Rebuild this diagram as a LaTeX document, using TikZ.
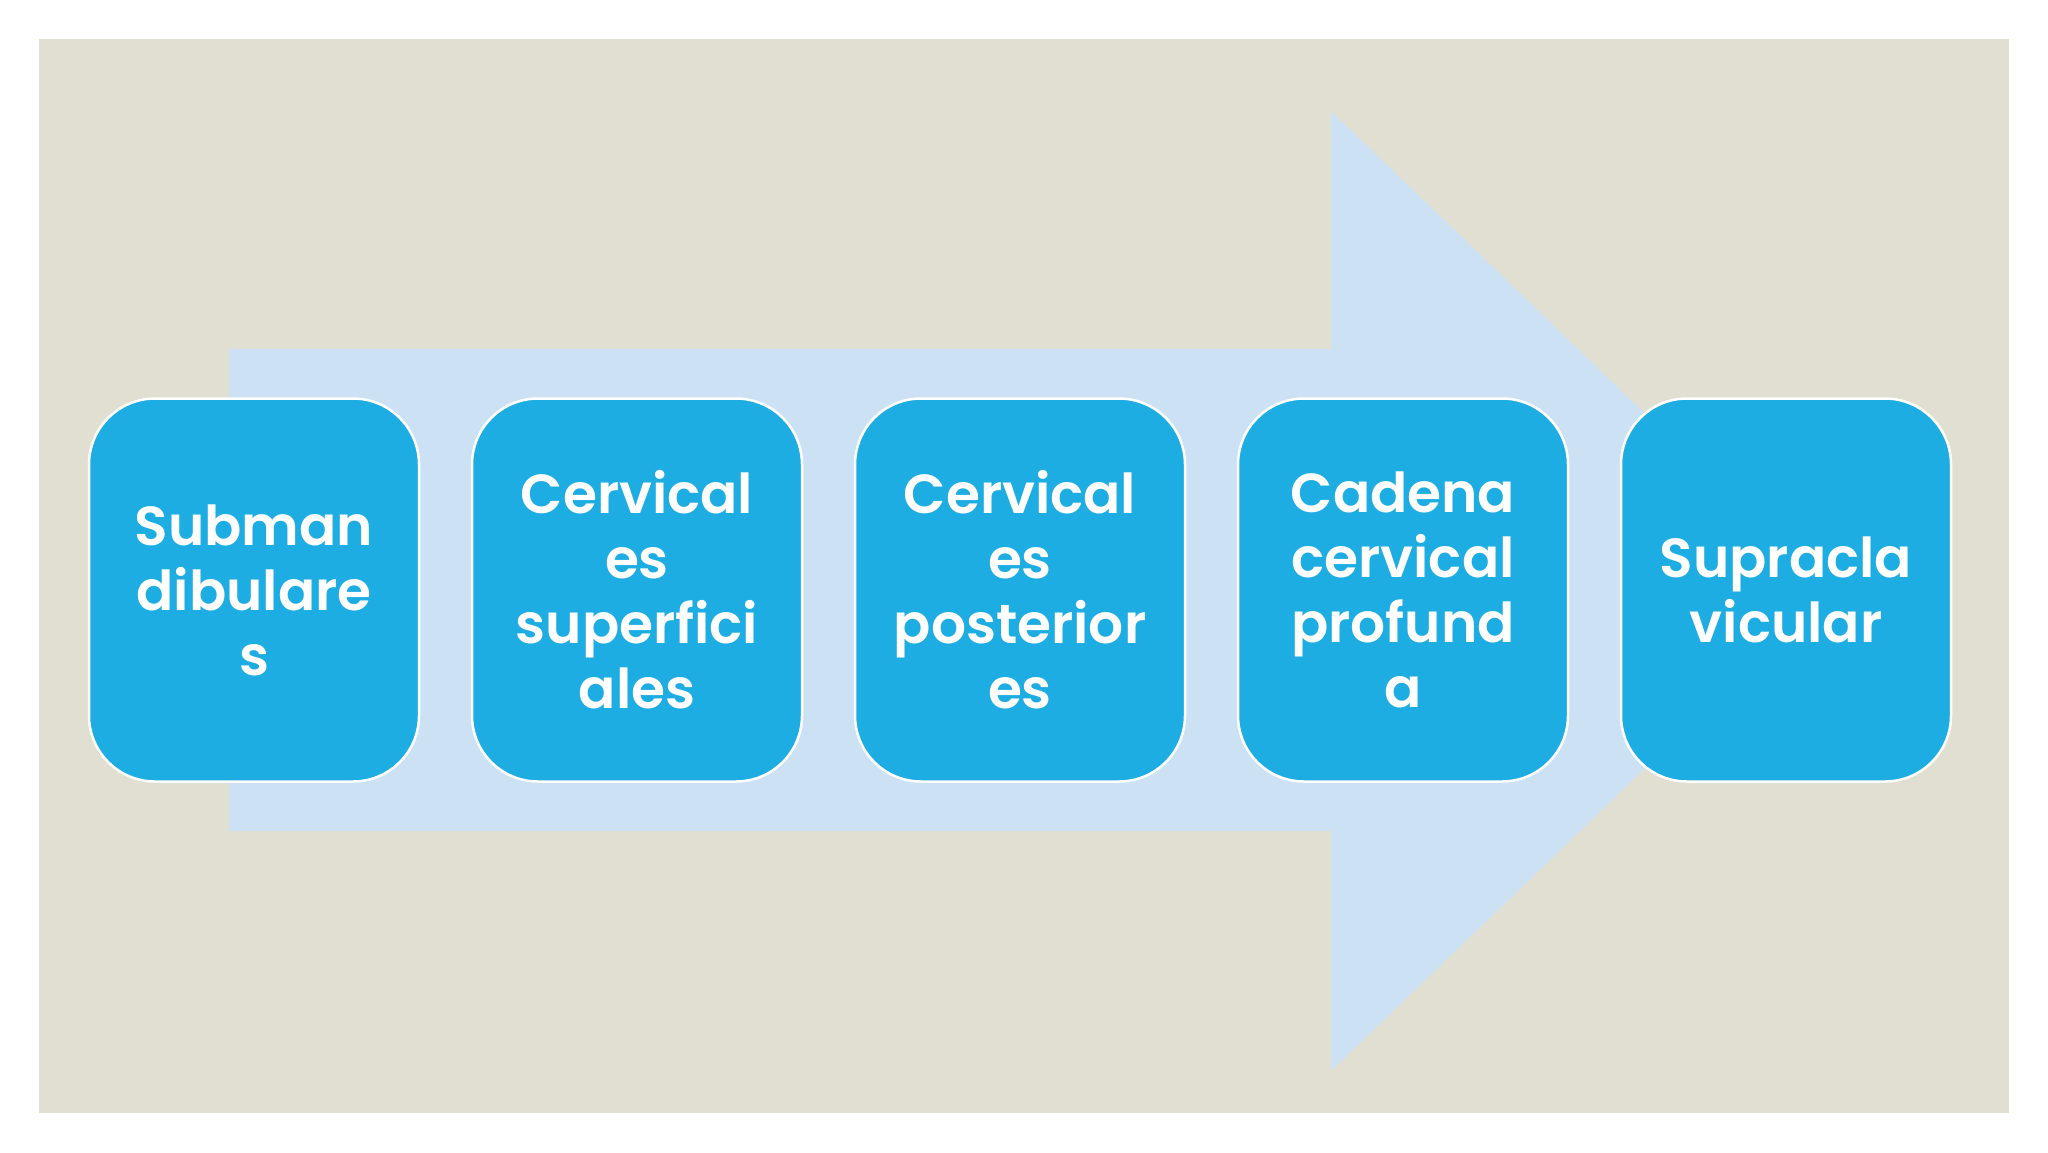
\documentclass[tikz,border=0pt]{standalone}
\usepackage{fontspec}
\setmainfont{Poppins}[BoldFont={Poppins SemiBold}]
\definecolor{bgc}{HTML}{E1DFD1}
\definecolor{arrowc}{HTML}{CCE2F4}
\definecolor{boxc}{HTML}{1EADE2}
\begin{document}
\begin{tikzpicture}[x=1pt,y=-1pt,
  stepbox/.style={draw=white, line width=2.5pt, fill=boxc, rounded corners=66pt,
    minimum width=330pt, minimum height=383pt, inner sep=0pt,
    text=white, align=center, font=\fontsize{55}{65}\selectfont\bfseries}]
\useasboundingbox (0,0) rectangle (2048,1152);
\fill[white] (0,0) rectangle (2048,1152);
\fill[bgc] (39,39) rectangle (2009,1113);
\fill[arrowc] (229,349) -- (1331,349) -- (1331,111) -- (1829,591) -- (1331,1071) -- (1331,831) -- (229,831) -- cycle;
\node[stepbox] (b1) at (254,590) {Subman\\dibulare\\s};
\node[stepbox] (b2) at (637,590) {Cervical\\es\\superfici\\ales};
\node[stepbox] (b3) at (1020,590) {Cervical\\es\\posterior\\es};
\node[stepbox] (b4) at (1403,590) {Cadena\\cervical\\profund\\a};
\node[stepbox] (b5) at (1786,590) {Supracla\\vicular};
\end{tikzpicture}
\end{document}
